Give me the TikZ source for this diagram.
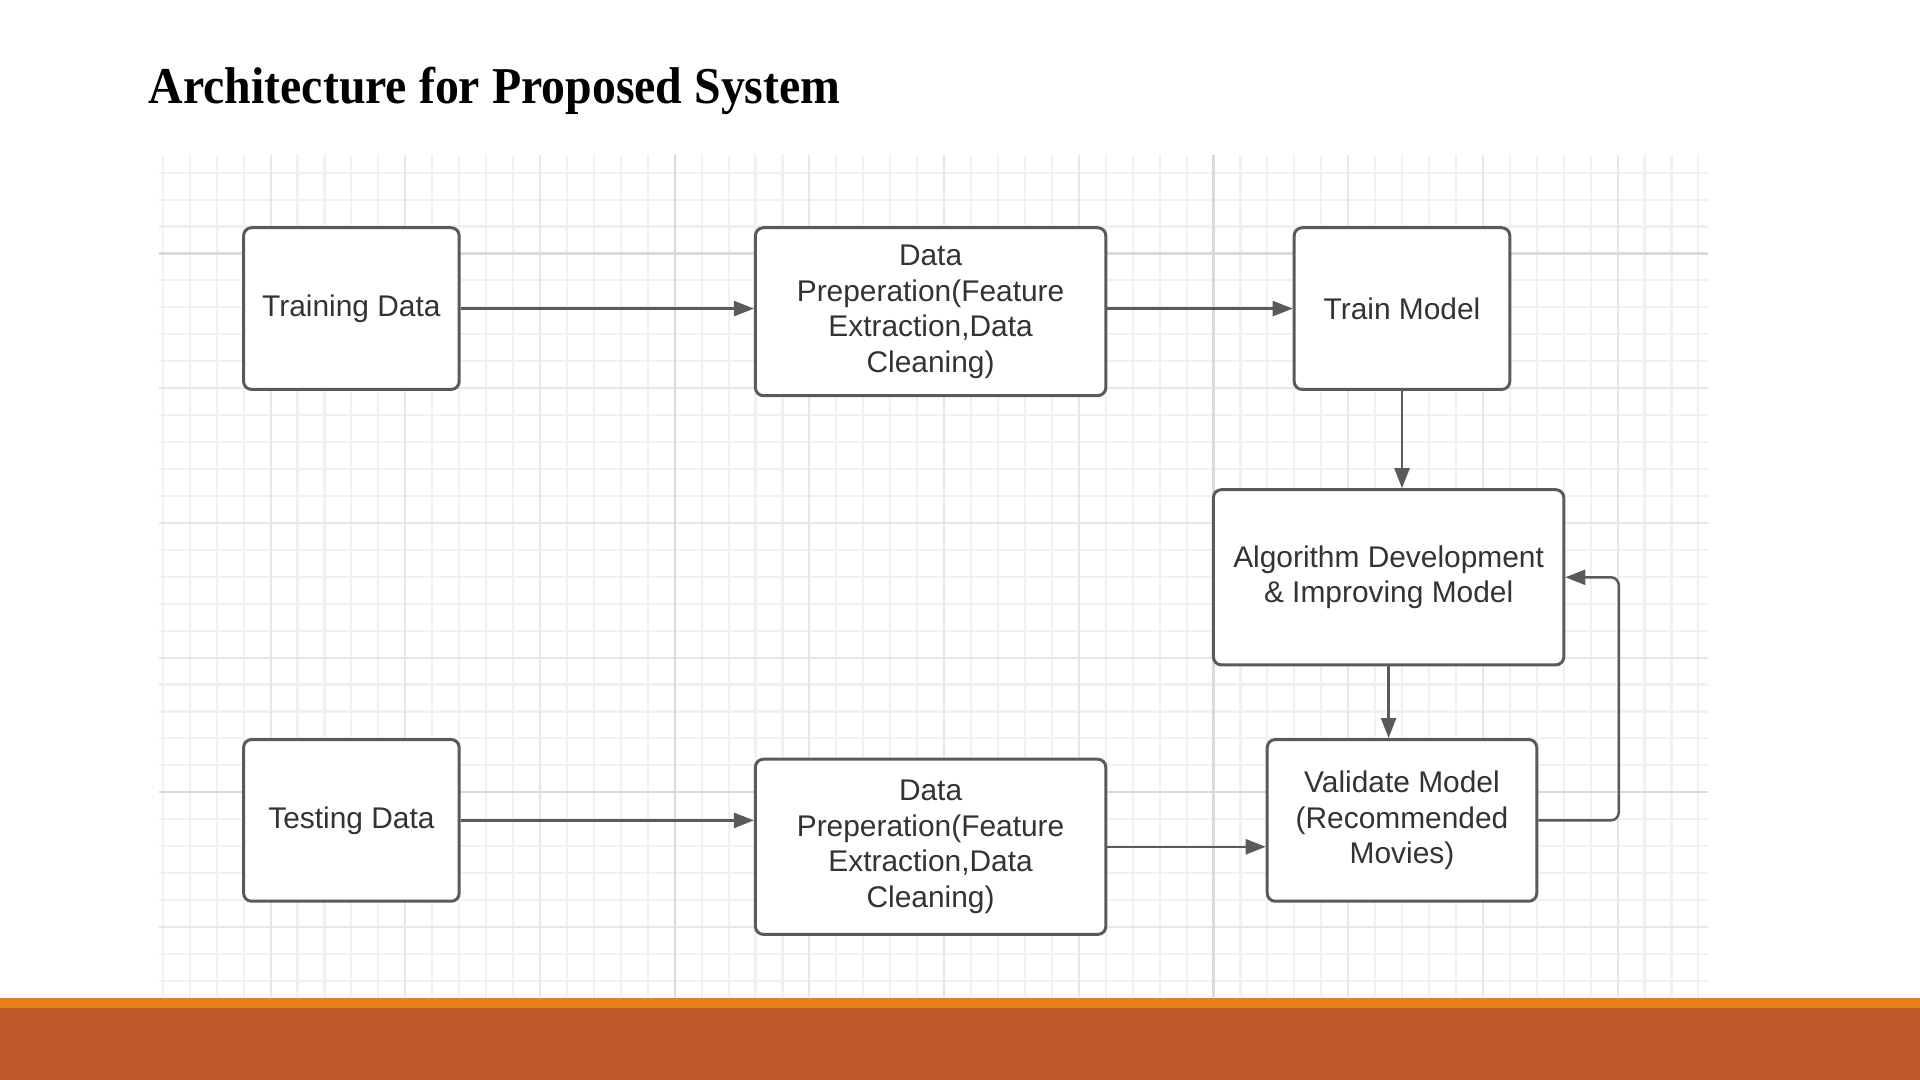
\documentclass[tikz,border=0pt]{standalone}
\usepackage{fontspec}
\setmainfont{Liberation Serif}
\newfontfamily\chartfont{Liberation Sans}
\usepackage{graphicx}
\usepackage{xcolor}
\usepackage{tikz}
\usetikzlibrary{arrows.meta, positioning}

\definecolor{gridminor}{HTML}{F1F1F1}
\definecolor{gridmid}{HTML}{E7E7E7}
\definecolor{gridmajor}{HTML}{DADADA}
\definecolor{edgegray}{HTML}{5A5A5A}
\definecolor{labelgray}{HTML}{333333}
\definecolor{barorange}{HTML}{E4811A}
\definecolor{barrust}{HTML}{BD582C}

\begin{document}
\begin{tikzpicture}[x=0.01cm, y=-0.01cm,
  box/.style={draw=edgegray, line width=0.85pt, rounded corners=0.08cm, fill=white, align=center, inner sep=0pt, text=labelgray, font=\chartfont\fontsize{8.5}{10.1}\selectfont},
  small/.style={minimum width=2.155cm, minimum height=1.616cm},
  wide/.style={minimum width=3.502cm},
  arr/.style={-{Triangle[length=0.2cm, width=0.15cm]}, draw=edgegray, line width=0.7pt},
  gridline/.style={line width=0.6pt}
]
\useasboundingbox (0,0) rectangle (1920,1080);

% background grid
\foreach \k in {-19,...,38}
  \draw[gridline, gridminor] ({674.7+26.94*\k},155) -- ({674.7+26.94*\k},997);
\foreach \k in {-3,...,27}
  \draw[gridline, gridminor] (159,{253.5+26.94*\k}) -- (1708,{253.5+26.94*\k});
\foreach \k in {-15,-10,...,35}
  \draw[gridline, gridmid] ({674.7+26.94*\k},155) -- ({674.7+26.94*\k},997);
\foreach \k in {0,5,...,25}
  \draw[gridline, gridmid] (159,{253.5+26.94*\k}) -- (1708,{253.5+26.94*\k});
\foreach \k in {0,20} {
  \draw[gridline, gridmajor] ({674.7+26.94*\k},155) -- ({674.7+26.94*\k},997);
  \draw[gridline, gridmajor] (159,{253.5+26.94*\k}) -- (1708,{253.5+26.94*\k});
}

% footer bars
\fill[barorange] (0,998) rectangle (1920,1008);
\fill[barrust] (0,1008) rectangle (1920,1080);

\node[anchor=base west, inner sep=0pt, font=\bfseries\fontsize{14.7}{17}\selectfont] (title) at (148,104) {\scalebox{0.925}[1]{Architecture for Proposed System}};

\node[box, small] (traindata) at (351.4,308.6) {Training Data};
\node[box, wide, minimum height=1.678cm] (preptrain) at (930.6,311.7) {Data\\Preperation(Feature\\Extraction,Data\\Cleaning)};
\node[box, small] (trainmodel) at (1402,308.6) {Train Model};
\node[box, wide, minimum height=1.751cm] (algo) at (1388.6,577.3) {Algorithm Development\\\& Improving Model};
\node[box, minimum width=2.694cm, minimum height=1.616cm] (validate) at (1402,820.4) {Validate Model\\(Recommended\\Movies)};
\node[box, small] (testdata) at (351.4,820.4) {Testing Data};
\node[box, wide, minimum height=1.751cm] (preptest) at (930.6,846.8) {Data\\Preperation(Feature\\Extraction,Data\\Cleaning)};

\coordinate (loopback) at (1618.8,700);

\draw[arr] (traindata.east) -- (traindata.east -| preptrain.west);
\draw[arr] (preptrain.east |- trainmodel.west) -- (trainmodel.west);
\draw[arr] (trainmodel.south) -- (trainmodel.south |- algo.north);
\draw[arr] (algo.south) -- (algo.south |- validate.north);
\draw[arr] (testdata.east) -- (testdata.east -| preptest.west);
\draw[arr] (preptest.east) -- (preptest.east -| validate.west);
\draw[arr, rounded corners=0.08cm] (validate.east) -| (loopback) |- (algo.east);
\end{tikzpicture}
\end{document}
